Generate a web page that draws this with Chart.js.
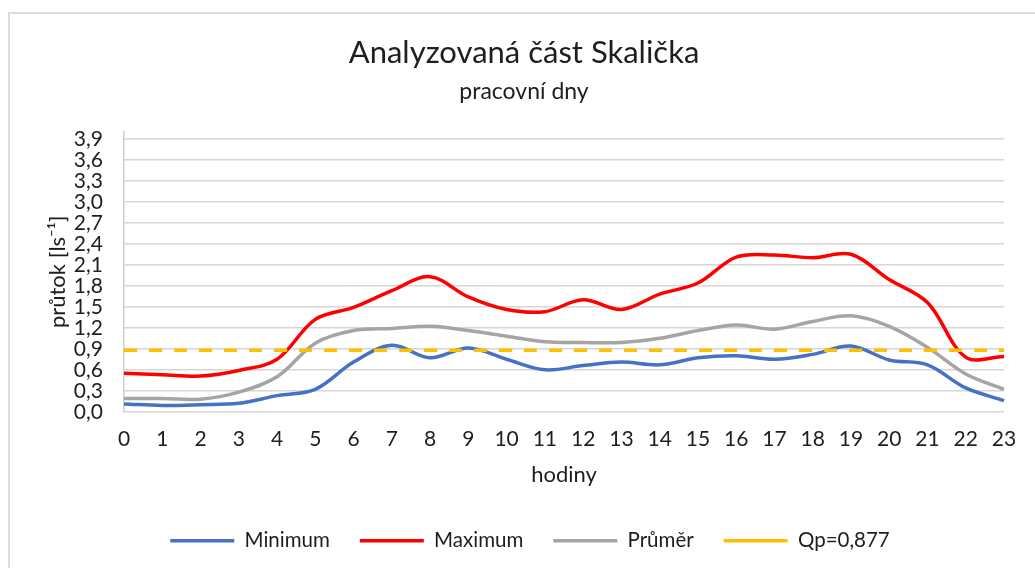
<!DOCTYPE html>
<html>
<head>
<meta charset="utf-8">
<script src="https://cdn.jsdelivr.net/npm/chart.js@4/dist/chart.umd.min.js"></script>
<style>
  html, body { margin: 0; padding: 0; background: #fff; overflow: hidden; }
  #ramecek { position: absolute; left: 8px; top: 12px; width: 2000px; height: 2000px; border: 2px solid #dcdcdc; }
  #obal { position: absolute; left: 0; top: 0; width: 1035px; height: 568px; }
</style>
</head>
<body>
<div id="ramecek"></div>
<div id="obal"><canvas id="graf"></canvas></div>
<script>
// Průtok v analyzované části Skalička, pracovní dny
var hodiny = ['0', '1', '2', '3', '4', '5', '6', '7', '8', '9', '10', '11',
  '12', '13', '14', '15', '16', '17', '18', '19', '20', '21', '22', '23'];
var minimum = [0.11, 0.09, 0.10, 0.12, 0.23, 0.32, 0.71, 0.95, 0.77, 0.91, 0.75, 0.60,
  0.66, 0.71, 0.67, 0.77, 0.80, 0.75, 0.82, 0.94, 0.74, 0.67, 0.34, 0.16];
var maximum = [0.55, 0.53, 0.51, 0.59, 0.75, 1.32, 1.49, 1.73, 1.93, 1.64, 1.46, 1.43,
  1.60, 1.46, 1.68, 1.84, 2.21, 2.24, 2.20, 2.25, 1.89, 1.56, 0.78, 0.79];
var prumer = [0.19, 0.19, 0.18, 0.28, 0.50, 0.98, 1.16, 1.19, 1.22, 1.16, 1.08, 1.00,
  0.99, 0.99, 1.05, 1.16, 1.24, 1.18, 1.29, 1.37, 1.22, 0.92, 0.54, 0.32];
var qp = [0.877, 0.877, 0.877, 0.877, 0.877, 0.877, 0.877, 0.877, 0.877, 0.877, 0.877, 0.877,
  0.877, 0.877, 0.877, 0.877, 0.877, 0.877, 0.877, 0.877, 0.877, 0.877, 0.877, 0.877];

var PISMO = 'Lato, "Noto Sans", sans-serif';
var TEXT = '#1e1e1e';

function rada(nazev, data, barva, poradi, carky) {
  return {
    label: nazev, data: data, borderColor: barva, backgroundColor: barva,
    borderWidth: 3.5, pointRadius: 0, pointHoverRadius: 0, tension: 0.35,
    borderDash: carky || [], order: poradi, fill: false,
  };
}

// titulky a legenda jsou v originále vystředěné na širší rámeček než je výřez
var posun = {
  id: 'posun',
  afterLayout: function (chart) {
    chart.boxes.forEach(function (b) {
      if (b.axis) return;
      var dx = b.position === 'bottom' ? 28 : 22;
      b.left += dx;
      b.right += dx;
    });
  },
};

Chart.defaults.font.family = PISMO;
Chart.defaults.color = TEXT;

new Chart(document.getElementById('graf').getContext('2d'), {
  type: 'line',
  data: {
    labels: hodiny,
    datasets: [
      rada('Minimum', minimum, '#4472c4', 4),
      rada('Maximum', maximum, '#ff0000', 3),
      rada('Průměr', prumer, '#a5a5a5', 2),
      rada('Qp=0,877', qp, '#ffc000', 1, [13, 12]),
    ],
  },
  plugins: [posun],
  options: {
    responsive: true,
    maintainAspectRatio: false,
    animation: false,
    layout: { padding: { left: 0, right: 31, top: 0, bottom: 7 } },
    plugins: {
      title: {
        display: true, text: 'Analyzovaná část Skalička', color: TEXT,
        font: { size: 31, weight: 'normal' }, padding: { top: 34, bottom: 7 },
      },
      subtitle: {
        display: true, text: 'pracovní dny', color: TEXT,
        font: { size: 23 }, padding: { top: 0, bottom: 26 },
      },
      legend: {
        position: 'bottom',
        labels: {
          color: TEXT, font: { size: 20.5 }, usePointStyle: true, pointStyle: 'line',
          pointStyleWidth: 64, boxHeight: 20, padding: 30,
          sort: function (a, b) { return a.datasetIndex - b.datasetIndex; },
        },
      },
      tooltip: { enabled: false },
    },
    scales: {
      x: {
        grid: { display: false, drawTicks: false },
        border: { display: false },
        ticks: { color: TEXT, font: { size: 21 }, padding: 15, maxRotation: 0, autoSkip: false },
        title: { display: true, text: 'hodiny', color: TEXT, font: { size: 22 }, padding: { top: 0, bottom: 12.5 } },
        afterFit: function (osa) { osa.height = 88.75; },
      },
      y: {
        min: 0, max: 4.0,
        grid: { color: '#d6d6d6', lineWidth: 1.5, drawTicks: false },
        border: { display: true, color: '#cfcfcf', width: 1.5 },
        ticks: {
          stepSize: 0.3, includeBounds: false, autoSkip: false, color: TEXT, font: { size: 21 }, padding: 21,
          callback: function (v) { return Number(v).toFixed(1).replace('.', ','); },
        },
        afterBuildTicks: function (osa) {
          osa.ticks = osa.ticks.filter(function (t) { return t.value <= 3.95; });
        },
        afterFit: function (osa) { osa.width = 124; },
        title: { display: true, text: 'průtok [ls⁻¹]', color: TEXT, font: { size: 22 }, padding: { top: 45, bottom: 0 } },
      },
    },
  },
});
</script>
</body>
</html>
